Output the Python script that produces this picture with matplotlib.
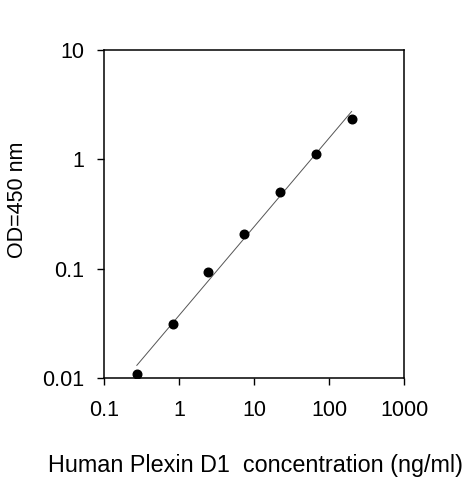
import numpy as np
import matplotlib
matplotlib.use("Agg")
import matplotlib.pyplot as plt

# standard curve points (3-fold dilution series)
conc = [0.274, 0.823, 2.47, 7.41, 22.2, 66.7, 200.0]
od = [0.0109, 0.0311, 0.094, 0.207, 0.503, 1.11, 2.35]

x_ticks = [0.1, 1, 10, 100, 1000]
x_labels = ["0.1", "1", "10", "100", "1000"]
y_ticks = [0.01, 0.1, 1, 10]
y_labels = ["0.01", "0.1", "1", "10"]

plt.rcParams['font.family'] = ['Liberation Sans', 'DejaVu Sans']

fig = plt.figure(figsize=(4.63, 4.8), dpi=100)
ax = fig.add_axes([0.2246, 0.2125, 0.648, 0.6833])

# linear fit in log-log space
lx = np.log10(conc)
ly = np.log10(od)
slope, icpt = np.polyfit(lx, ly, 1)
fx = np.array([min(conc), max(conc)])
fy = 10 ** (icpt + slope * np.log10(fx))
ax.plot(fx, fy, color='#555555', lw=0.7, zorder=2)

ax.plot(conc, od, 'o', color='black', ms=6.2, zorder=3)

ax.set_xscale('log')
ax.set_yscale('log')
ax.set_xlim(0.1, 1000)
ax.set_ylim(0.01, 10)
ax.set_xticks(x_ticks)
ax.set_xticklabels(x_labels)
ax.set_yticks(y_ticks)
ax.set_yticklabels(y_labels)
ax.minorticks_off()
ax.tick_params(length=5, width=1, labelsize=15.5, color='black')
ax.tick_params(axis='x', pad=11)
ax.tick_params(axis='y', pad=9)

for s in ax.spines.values():
    s.set_linewidth(1.1)

fig.text(0.551, 0.031, "Human Plexin D1  concentration (ng/ml)", ha='center',
         va='center', fontsize=16.8)
fig.text(0.037, 0.583, "OD=450 nm", rotation=90, ha='center', va='center',
         fontsize=15.5)

fig.savefig("out.png", dpi=100)
